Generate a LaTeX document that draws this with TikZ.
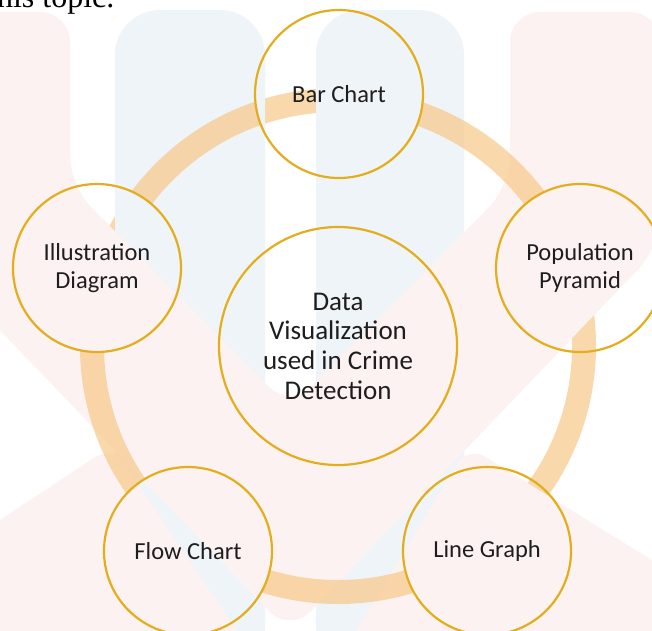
\documentclass[tikz,border=0pt]{standalone}
\usepackage{fontspec}
\newfontfamily\lblfont{Carlito}
\newfontfamily\serfont{Liberation Serif}
\definecolor{gold}{HTML}{E3AE1E}
\definecolor{ringc}{HTML}{F7C47E}
\definecolor{wmpink}{HTML}{FDF2F2}
\definecolor{wmblue}{HTML}{EFF4F8}
\definecolor{txt}{HTML}{1E1E1E}
\newcommand\wmark{%
  \fill[wmblue, rounded corners=45pt] (115,10) rectangle (265,700);
  \fill[wmblue, rounded corners=45pt] (316,10) rectangle (464,700);
  \fill[wmpink, rounded corners=30pt] (-70,12) -- (70,12) -- (70,186) -- (290,408) -- (510,186) -- (510,12) -- (660,12) -- (660,246) -- (470,445) -- (290,633) -- (110,445) -- (-70,257) -- cycle;
  \fill[wmpink, rounded corners=20pt] (-70,566) -- (112,446) -- (250,650) -- (-70,650) -- cycle;
  \fill[wmpink, rounded corners=20pt] (700,590) -- (468,446) -- (345,650) -- (700,650) -- cycle;
}
\tikzset{
  bub/.style={circle, draw=gold, line width=2.2pt, inner sep=0pt, align=center,
    text=txt, minimum size=168pt, font=\lblfont\fontsize{24.5}{27.3}\selectfont},
  hub/.style={bub, minimum size=238pt, font=\lblfont\fontsize{27}{29.7}\selectfont},
  ringstyle/.style={draw=ringc, opacity=0.65, line width=24pt}
}
\begin{document}
\begin{tikzpicture}[x=1pt, y=-1pt]
  \useasboundingbox (0,0) rectangle (652,630);
  \clip (0,0) rectangle (652,630);
  \fill[white] (0,0) rectangle (652,630);
  \wmark
  \node[anchor=base west, inner sep=0pt, font=\serfont\fontsize{32}{36}\selectfont, text=black] (tt) at (-12,7) {this topic.};
  \coordinate (ctr) at (338,346);
  \draw[ringstyle] (ctr) circle[radius=246pt];
  \begin{scope}
    \clip (339,94) circle[radius=84pt] (97,268) circle[radius=84pt]
          (580,268) circle[radius=84pt] (188,551) circle[radius=84pt]
          (487,551) circle[radius=84pt];
    \wmark
  \end{scope}
  \node[hub] (main) at (ctr) {Data\\Visualization\\used in Crime\\Detection};
  \node[bub] (bar) at (339,94) {Bar Chart};
  \node[bub] (ill) at (97,268) {Illustration\\Diagram};
  \node[bub] (pop) at (580,268) {Population\\Pyramid};
  \node[bub] (flow) at (188,551) {Flow Chart};
  \node[bub] (line) at (487,551) {Line Graph};
\end{tikzpicture}
\end{document}
